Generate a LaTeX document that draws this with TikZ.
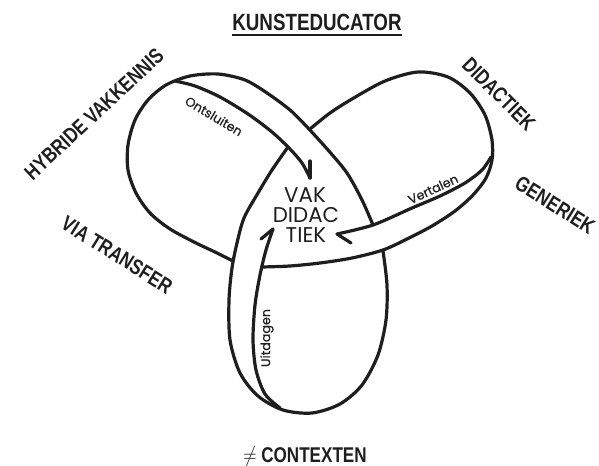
\documentclass[tikz,border=0pt]{standalone}
\usepackage{graphicx}
\usepackage{fontspec}
\setmainfont{Liberation Sans}
\newfontfamily\geofont{Poppins}
\newfontfamily\geobold{Poppins}[FakeBold=0.4]
\newcommand\condtxt[1]{\scalebox{0.8}[1]{#1}}
\definecolor{ink}{HTML}{1E1E1E}
\begin{document}
\begin{tikzpicture}[x=0.75pt,y=-0.75pt, line cap=round, line join=round,
  knot/.style={draw=ink, line width=2.4pt},
  barb/.style={draw=ink, line width=2.4pt},
  biglab/.style={font=\bfseries\fontsize{16}{18}\selectfont, inner sep=0pt, text=ink},
  titlelab/.style={font=\bfseries\fontsize{17.6}{20}\selectfont, inner sep=0pt, text=ink},
  centrelab/.style={font=\geofont\fontsize{16}{18}\selectfont, inner sep=0pt, text=ink},
  bandlab/.style={font=\geobold\fontsize{9.5}{11}\selectfont, inner sep=0pt, text=ink}]
\useasboundingbox (0,0) rectangle (599,466);

% knot: outer strands
\draw[knot] plot[smooth] coordinates {(233,261) (215,252) (196,243) (170,229) (150,213) (136,193) (128,170) (128,145) (135,120) (148,100) (166,85) (190,76) (218,74) (245,80) (267,93) (290,110) (308,128) (328,150) (347,173) (362,200) (373,225)};
\draw[knot] plot[smooth] coordinates {(310,129) (330,113) (352,99) (385,81) (418,72) (448,77) (470,93) (485,115) (492,140) (492,160) (486,178) (473,195) (455,211) (432,226) (407,239) (383,250) (352,258) (320,263) (290,266) (262,267)};
\draw[knot] plot[smooth] coordinates {(383,251) (387,285) (386,320) (378,355) (362,385) (340,404) (312,413) (283,410) (258,396) (240,373) (230,340) (229,300) (232,268) (237,243) (244,218) (258,193) (272,170) (288,147)};

% arrow bands: inner strands
\draw[knot] plot[smooth] coordinates {(175,81) (195,86) (220,97) (248,114) (272,132) (290,149) (302,163) (310,178)};
\draw[barb] (310,178) -- (310,161);
\draw[knot] plot[smooth] coordinates {(491,157) (482,170) (465,183) (440,196) (412,208) (373,225) (337,234)};
\draw[barb] (337,234) -- (351,243);
\draw[knot] plot[smooth] coordinates {(280,408) (265,394) (256,370) (253,340) (255,305) (260,275) (266,250) (273,229)};
\draw[barb] (273,229) -- (261,239);

% band labels
\node[bandlab, rotate=-31] (ont) at (214,116) {Ontsluiten};
\node[bandlab, rotate=25] (ver) at (433,189) {Vertalen};
\node[bandlab, rotate=90] (uit) at (267,338) {Uitdagen};

% centre
\node[centrelab] (c1) at (305,195) {VAK};
\node[centrelab] (c2) at (306,215) {DIDAC};
\node[centrelab] (c3) at (306,235) {TIEK};

% outer labels
\node[titlelab] (title) at (317,22) {\condtxt{KUNSTEDUCATOR}};
\draw[ink, line width=1.5pt, line cap=butt] ([yshift=-3pt]title.south west) -- ([yshift=-3pt]title.south east);
\node[biglab, rotate=43] (hyb) at (94,114) {\condtxt{HYBRIDE VAKKENNIS}};
\node[biglab, rotate=-45] (did) at (499,94) {\condtxt{DIDACTIEK}};
\node[biglab, rotate=-32] (gen) at (555,205) {\condtxt{GENERIEK}};
\node[biglab, rotate=-32] (via) at (117,255) {\condtxt{VIA TRANSFER}};
\node[biglab] (ctx) at (305,457) {\condtxt{$\neq$ CONTEXTEN}};
\end{tikzpicture}
\end{document}
